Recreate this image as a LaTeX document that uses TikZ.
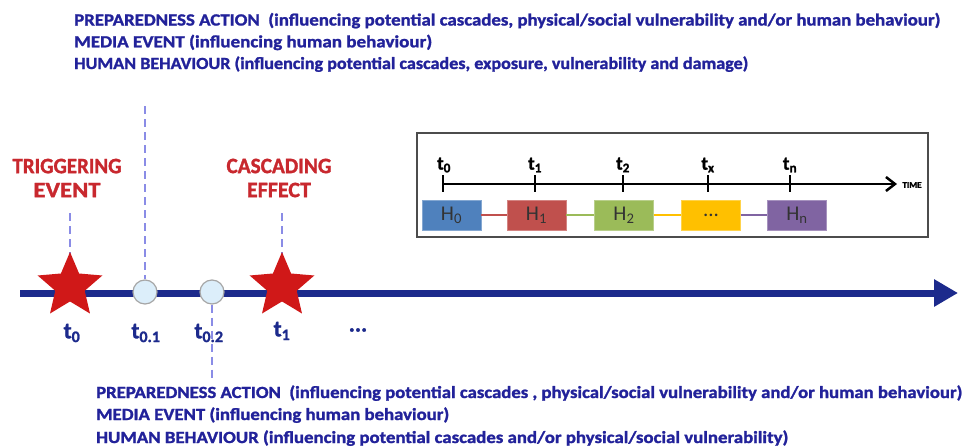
\documentclass[tikz,border=0pt]{standalone}
\usepackage{fontspec}
\setmainfont{Carlito}
\newfontfamily\heavyfont{Carlito}[UprightFont={* Bold},BoldFont={* Bold},UprightFeatures={FakeBold=1.4},BoldFeatures={FakeBold=1.4}]
\usetikzlibrary{shapes.geometric,arrows.meta}
\definecolor{navy}{HTML}{1C2A8C}
\definecolor{textblue}{HTML}{22229A}
\definecolor{eventred}{HTML}{C8282E}
\definecolor{starred}{HTML}{D01818}
\definecolor{dashblue}{HTML}{8A8CE6}
\definecolor{dotfill}{HTML}{DCEEFA}
\definecolor{hblue}{HTML}{4F81BD}
\definecolor{hred}{HTML}{C0504D}
\definecolor{hgreen}{HTML}{9BBB59}
\definecolor{hyellow}{HTML}{FFC000}
\definecolor{hpurple}{HTML}{8064A2}
\newcommand{\fitline}[2]{\resizebox{#1}{\height}{#2}}
\begin{document}
\begin{tikzpicture}[x=1pt,y=-1pt,
  infoline/.style={anchor=base west,inner sep=0,text=textblue,font=\fontsize{17}{19}\selectfont\heavyfont},
  eventlabel/.style={align=center,text=eventred,font=\fontsize{22}{24}\selectfont\heavyfont,inner sep=0},
  ticklabel/.style={text=navy,font=\fontsize{23}{25}\selectfont\heavyfont,inner sep=0},
  eventstar/.style={star,star points=5,star point ratio=2.2,minimum size=68pt,inner sep=0,fill=starred,draw=none},
  dotmark/.style={circle,minimum size=24pt,inner sep=0,fill=dotfill,draw=gray!70,line width=1.2pt},
  guide/.style={dashblue,line width=2.2pt,dash pattern=on 8pt off 5pt},
  hbox/.style={minimum width=59pt,minimum height=30pt,inner sep=0,font=\fontsize{21}{23}\selectfont,text=black!80},
  insetlabel/.style={font=\fontsize{19}{21}\selectfont\heavyfont,inner sep=0}]
\useasboundingbox (0,0) rectangle (964,447);

% actions listed above the time axis
\node[infoline] (top1) at (74,25.5) {\fitline{866pt}{PREPAREDNESS ACTION\ \ (influencing potential cascades, physical/social vulnerability and/or human behaviour)}};
\node[infoline] (top2) at (74,47.3) {\fitline{358pt}{MEDIA EVENT (influencing human behaviour)}};
\node[infoline] (top3) at (74,69) {\fitline{674pt}{HUMAN BEHAVIOUR (influencing potential cascades, exposure, vulnerability and damage)}};

% actions listed below the time axis
\node[infoline] (bot1) at (96,398) {\fitline{866pt}{PREPAREDNESS ACTION\ \ (influencing potential cascades , physical/social vulnerability and/or human behaviour)}};
\node[infoline] (bot2) at (96,420) {\fitline{353pt}{MEDIA EVENT (influencing human behaviour)}};
\node[infoline] (bot3) at (96,443) {\fitline{692pt}{HUMAN BEHAVIOUR (influencing potential cascades and/or physical/social vulnerability)}};

% main time axis
\coordinate (axstart) at (20,293);
\coordinate (axend) at (958,293);
\draw[navy,line width=7pt,-{Triangle[length=24pt,width=26pt]}] (axstart) -- (axend);

% guide lines
\coordinate (g0) at (70,213);
\coordinate (g1) at (282,213);
\coordinate (g01) at (145,106);
\coordinate (g02) at (212,380);

% events on the axis
\node[dotmark] (d01) at (145,292) {};
\node[dotmark] (d02) at (212,292) {};
\draw[guide] (g0) -- (70,262);
\draw[guide] (g1) -- (282,262);
\draw[guide] (g01) -- (d01.north);
\draw[guide] (d02.south) -- (g02);
\node[eventstar] (s0) at (70,286) {};
\node[eventstar] (s1) at (282,286) {};

\node[eventlabel] (trig) at (67,178) {\fitline{109pt}{TRIGGERING}\\\fitline{67pt}{EVENT}};
\node[eventlabel] (casc) at (279,178) {\fitline{105pt}{CASCADING}\\\fitline{64pt}{EFFECT}};

% time labels
\node[ticklabel] (l0) at (72,333) {t\textsubscript{0}};
\node[ticklabel] (l01) at (146,333) {t\textsubscript{0.1}};
\node[ticklabel] (l02) at (209,333) {t\textsubscript{0.2}};
\node[ticklabel] (l1) at (282,331) {t\textsubscript{1}};
\node[ticklabel] (ldots) at (358,330) {...};

% inset: hazard sequence in time
\node[draw=black!70,line width=2pt,minimum width=511pt,minimum height=104pt,inner sep=0] (inset) at (672.5,185) {};
\coordinate (it0) at (442,184);
\coordinate (itend) at (897,184);
\draw[black,line width=2.5pt,-{Straight Barb[length=9pt,width=14pt,line width=2.5pt]}] (it0) -- (itend);
\foreach \x in {443,535,623,708,790}{
  \draw[black,line width=2.5pt] (\x,175) -- (\x,192);
}
\node[insetlabel] (lt0) at (444,165) {t\textsubscript{0}};
\node[insetlabel] (lt1) at (535,165) {t\textsubscript{1}};
\node[insetlabel] (lt2) at (623,165) {t\textsubscript{2}};
\node[insetlabel] (ltx) at (708,165) {t\textsubscript{x}};
\node[insetlabel] (ltn) at (790,165) {t\textsubscript{n}};
\node[font=\fontsize{9}{10}\selectfont\heavyfont,inner sep=0] (time) at (912,185) {TIME};

\node[hbox,fill=hblue,draw=hblue!70!white] (h0) at (451.5,215) {H\textsubscript{0}};
\node[hbox,fill=hred,draw=hred!70!white] (h1) at (536.5,215) {H\textsubscript{1}};
\node[hbox,fill=hgreen,draw=hgreen!70!white] (h2) at (624,215) {H\textsubscript{2}};
\node[hbox,fill=hyellow,draw=hyellow!70!white] (hx) at (711,215) {...};
\node[hbox,fill=hpurple,draw=hpurple!70!white] (hn) at (797,215) {H\textsubscript{n}};
\draw[hred,line width=1.5pt] (h0) -- (h1);
\draw[hgreen,line width=1.5pt] (h1) -- (h2);
\draw[hyellow,line width=1.5pt] (h2) -- (hx);
\draw[hpurple,line width=1.5pt] (hx) -- (hn);
\end{tikzpicture}
\end{document}
